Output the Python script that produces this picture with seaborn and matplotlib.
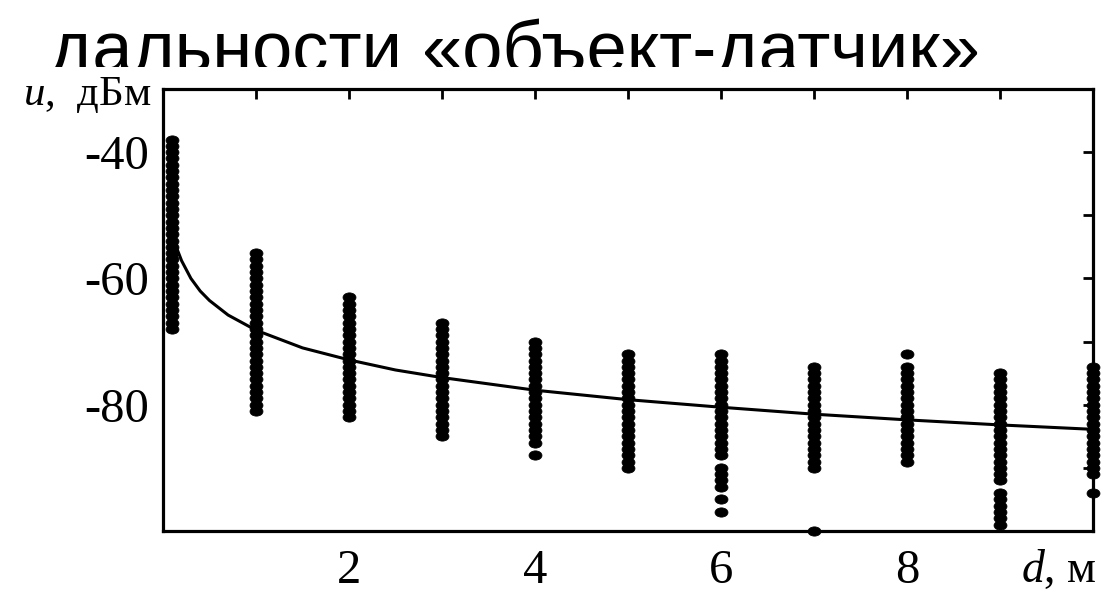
import numpy as np
import pandas as pd
import matplotlib
matplotlib.use("Agg")
import matplotlib.pyplot as plt
import seaborn as sns
from matplotlib.markers import MarkerStyle
from matplotlib.transforms import Affine2D
from matplotlib.patches import Rectangle

# ---------------- data ----------------
distances = [0.1, 1, 2, 3, 4, 5, 6, 7, 8, 9, 10]
u_d01 = [-38, -39, -40, -41, -42, -43, -44, -45, -46, -47, -48, -49, -50, -51, -52, -53,
         -54, -55, -56, -57, -58, -59, -60, -61, -62, -63, -64, -65, -66, -67, -68]
u_d1 = [-56, -57, -58, -59, -60, -61, -62, -63, -64, -65, -66, -67, -68, -69, -70, -71,
        -72, -73, -74, -75, -76, -77, -78, -79, -80, -81]
u_d2 = [-63, -64, -65, -66, -67, -68, -69, -70, -71, -72, -73, -74, -75, -76, -77, -78,
        -79, -80, -81, -82]
u_d3 = [-67, -68, -69, -70, -71, -72, -73, -74, -75, -76, -77, -78, -79, -80, -81, -82,
        -83, -84, -85]
u_d4 = [-70, -71, -72, -73, -74, -75, -76, -77, -78, -79, -80, -81, -82, -83, -84, -85,
        -86, -88]
u_d5 = [-72, -73, -74, -75, -76, -77, -78, -79, -80, -81, -82, -83, -84, -85, -86, -87,
        -88, -89, -90]
u_d6 = [-72, -73, -74, -75, -76, -77, -78, -79, -80, -81, -82, -83, -84, -85, -86, -87,
        -88, -90, -91, -92, -93, -95, -97]
u_d7 = [-74, -75, -76, -77, -78, -79, -80, -81, -82, -83, -84, -85, -86, -87, -88, -89,
        -90, -100]
u_d8 = [-72, -74, -75, -76, -77, -78, -79, -80, -81, -82, -83, -84, -85, -86, -87, -88,
        -89]
u_d9 = [-75, -76, -77, -78, -79, -80, -81, -82, -83, -84, -85, -86, -87, -88, -89, -90,
        -91, -92, -94, -95, -96, -97, -98, -99]
u_d10 = [-74, -75, -76, -77, -78, -79, -80, -81, -82, -83, -84, -85, -86, -87, -88, -89,
         -90, -91, -94]
columns = [u_d01, u_d1, u_d2, u_d3, u_d4, u_d5, u_d6, u_d7, u_d8, u_d9, u_d10]

# fitted curve, read at points along the line
curve_d = [0.12, 0.15, 0.2, 0.3, 0.4, 0.5, 0.7, 1, 1.5, 2, 2.5, 3, 4, 5, 6, 7, 8, 9, 10]
curve_u = [-53.7, -55.3, -57.2, -60.0, -62.0, -63.5, -65.8, -68.2, -71.0, -72.9, -74.5,
           -75.7, -77.7, -79.2, -80.4, -81.5, -82.4, -83.2, -83.9]

x_ticks = [1, 2, 3, 4, 5, 6, 7, 8, 9]
x_ticklabels = ["", "2", "", "4", "", "6", "", "8", ""]
y_ticks = [-90, -80, -70, -60, -50, -40]
y_ticklabels = ["", "-80", "", "-60", "", "-40"]

title_text = "дальности «объект-датчик»"
y_label = r"$\mathit{u}$,  дБм"
x_label = r"$\mathit{d}$, м"

# ---------------- figure ----------------
sns.set_theme(style="white")
plt.rcParams["font.family"] = ["Liberation Serif", "DejaVu Serif"]
plt.rcParams["mathtext.fontset"] = "custom"
plt.rcParams["mathtext.it"] = "Liberation Serif:italic"
plt.rcParams["mathtext.rm"] = "Liberation Serif"

W, H = 1105, 592
fig = plt.figure(figsize=(W / 100, H / 100), dpi=100)
ax = fig.add_axes([163 / W, 1 - 531 / H, (1093 - 163) / W, (531 - 89) / H])

rows = []
for d, vals in zip(distances, columns):
    for v in vals:
        rows.append((d, v))
df = pd.DataFrame(rows, columns=["d", "u"])
curve_df = pd.DataFrame({"d": curve_d, "u": curve_u})

ell = MarkerStyle("o", transform=Affine2D().scale(1.4, 1.0))
sns.scatterplot(data=df, x="d", y="u", ax=ax, marker=ell, s=44, color="black",
                edgecolor="black", linewidth=0.6, clip_on=False, zorder=3)
sns.lineplot(data=curve_df, x="d", y="u", ax=ax, color="black", linewidth=2.2,
             zorder=4, clip_on=False)

ax.set_xlim(0, 10)
ax.set_ylim(-100, -30)
ax.set_xticks(x_ticks)
ax.set_xticklabels(x_ticklabels)
ax.set_yticks(y_ticks)
ax.set_yticklabels(y_ticklabels)
ax.set_xlabel("")
ax.set_ylabel("")
ax.tick_params(axis="both", which="both", direction="in", length=7, width=2,
               color="black", labelsize=35, labelcolor="black",
               top=True, right=True)
ax.tick_params(axis="x", pad=13)
ax.tick_params(axis="y", pad=10)
for sp in ax.spines.values():
    sp.set_visible(True)
    sp.set_linewidth(2.3)
    sp.set_color("black")
ax.grid(False)

fig.text(152 / W, 1 - 105 / H, y_label, ha="right", va="baseline", fontsize=31,
         color="black")
fig.text(1097 / W, 1 - 582 / H, x_label, ha="right", va="baseline", fontsize=33,
         color="black")

# partially hidden title line at the top (its lower part is covered)
fig.text(50 / W, 1 - 72 / H, title_text, ha="left", va="baseline", fontsize=52,
         family=["Liberation Sans", "DejaVu Sans"], color="black", zorder=1)
fig.patches.append(Rectangle((0, 0), 1, 1 - 67 / H, transform=fig.transFigure,
                             facecolor="white", edgecolor="none", zorder=2))
ax.set_zorder(5)
ax.patch.set_alpha(0)

fig.savefig("out.png", dpi=100)
